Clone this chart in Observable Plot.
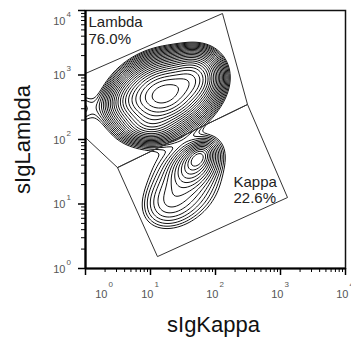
<!DOCTYPE html>
<html><head><meta charset="utf-8">
<script src="https://cdn.jsdelivr.net/npm/d3@7"></script>
<script src="https://cdn.jsdelivr.net/npm/@observablehq/plot@0.6"></script>
<style>
body{margin:0;background:#fff;}
#chart svg{display:block;}
</style></head><body><div id="chart"></div>
<script>
// ---- axis ticks ----
const xMajorTicks = [1, 10, 100, 1000, 10000];
const yMajorTicks = [1, 10, 100, 1000, 10000];
const tickExponents = ["0", "1", "2", "3", "4"];
const minorMultipliers = [2, 3, 4, 5, 6, 7, 8, 9];

// ---- population density model, in log10 units ----
const popName   = ["lambda core", "lambda upper right", "lambda left", "lambda lower",
                   "kappa core", "kappa body", "kappa halo", "kappa tail", "halo", "debris"];
const popU      = [1.20, 1.65, 0.70, 1.00, 1.74, 1.68, 1.52, 1.25, 1.00, -0.50];
const popV      = [2.70, 2.95, 2.60, 2.22, 1.72, 1.62, 1.28, 1.00, 1.85, 2.48];
const popSU     = [0.31, 0.20, 0.20, 0.22, 0.12, 0.22, 0.40, 0.25, 0.50, 0.40];
const popSV     = [0.23, 0.18, 0.16, 0.13, 0.08, 0.15, 0.30, 0.20, 0.30, 0.17];
const popAngle  = [20, 40, 25, 0, 45, 45, 50, 40, 0, 0];
const popWeight = [100, 35, 8, 12, 7, 7, 2.4, 1.0, 0.3, 2.2];

// ---- contour levels ----
const contourLevels = [0.65, 0.8, 1, 1.25, 1.56, 1.95, 2.44, 3.05, 3.8, 4.77, 5.96, 7.45, 9.3, 11.6, 14.6, 18.2, 22.7, 28.4, 35.5, 44.4, 55.5, 69.4, 86.7];

// ---- gates ----
const lambdaGateX = [1, 128, 311, 3.11, 1, 1];
const lambdaGateY = [1055, 8980, 349, 36.7, 107, 1055];
const kappaGateX  = [3.11, 12.8, 1282, 311, 3.11];
const kappaGateY  = [36.7, 1.53, 12.6, 349, 36.7];
const gateNames    = ["Lambda", "Kappa"];
const gatePercents = ["76.0%", "22.6%"];
const gateLabelX   = [1.11, 189];
const gateLabelY   = [8660, 28.7];

const xTitle = "sIgKappa";
const yTitle = "sIgLambda";

function density(u, v) {
  let s = 0;
  for (let i = 0; i < popU.length; i++) {
    const a = popAngle[i] * Math.PI / 180, c = Math.cos(a), sn = Math.sin(a);
    const du = u - popU[i], dv = v - popV[i];
    const p = (du * c + dv * sn) / popSU[i];
    const q = (-du * sn + dv * c) / popSV[i];
    s += popWeight[i] * Math.exp(-0.5 * (p * p + q * q));
  }
  return s;
}

const minorTicks = [];
for (const d of xMajorTicks.slice(0, -1)) for (const m of minorMultipliers) minorTicks.push(d * m);

const lambdaGate = lambdaGateX.map((x, i) => ({x, y: lambdaGateY[i]}));
const kappaGate = kappaGateX.map((x, i) => ({x, y: kappaGateY[i]}));
const gateLabels = gateNames.map((n, i) => ({x: gateLabelX[i], y: gateLabelY[i], text: n + "\n" + gatePercents[i]}));
const xLab = xMajorTicks.map((v, i) => ({v, e: tickExponents[i]}));
const yLab = yMajorTicks.map((v, i) => ({v, e: tickExponents[i]}));

const font = "'Liberation Sans', Arial, Helvetica, sans-serif";
const labelColor = "#555";

const chart = Plot.plot({
  width: 351, height: 338,
  marginLeft: 85, marginRight: 6, marginTop: 10, marginBottom: 70,
  x: {type: "log", domain: [1, 1e4]},
  y: {type: "log", domain: [1, 1e4]},
  style: {fontFamily: font, background: "#fff", overflow: "visible"},
  marks: [
    Plot.contour({
      value: (x, y) => density(Math.log10(x), Math.log10(y)),
      x1: 1, y1: 1, x2: 1e4, y2: 1e4,
      thresholds: contourLevels, pixelSize: 1,
      fill: "none", stroke: "#111", strokeWidth: 1
    }),
    Plot.line(lambdaGate, {x: "x", y: "y", stroke: "#333", strokeWidth: 1}),
    Plot.line(kappaGate, {x: "x", y: "y", stroke: "#333", strokeWidth: 1}),
    Plot.text(gateLabels, {x: "x", y: "y", text: "text", textAnchor: "start", lineAnchor: "top",
      fontSize: 15, lineHeight: 1.13, fill: "#222"}),
    Plot.frame({stroke: "#111", strokeWidth: 1.5}),
    Plot.ruleX([1], {stroke: "#000", strokeWidth: 2.2}),
    Plot.ruleY([1], {stroke: "#000", strokeWidth: 2.2}),
    Plot.axisX({ticks: xMajorTicks, tickSize: 7, tickFormat: () => "", label: null, stroke: "#000", strokeWidth: 1.5}),
    Plot.axisX({ticks: minorTicks, tickSize: 4, tickFormat: () => "", label: null, stroke: "#000", strokeWidth: 1}),
    Plot.axisY({ticks: yMajorTicks, tickSize: 7, tickFormat: () => "", label: null, stroke: "#000", strokeWidth: 1.5}),
    Plot.axisY({ticks: minorTicks, tickSize: 4, tickFormat: () => "", label: null, stroke: "#000", strokeWidth: 1}),
    // x tick labels (10 with superscript exponent)
    Plot.text(xLab.slice(1), {x: "v", text: () => "10", frameAnchor: "bottom", lineAnchor: "bottom",
      textAnchor: "end", dx: 3, dy: 29, fontSize: 11, fill: labelColor}),
    Plot.text(xLab.slice(1), {x: "v", text: "e", frameAnchor: "bottom", lineAnchor: "bottom",
      textAnchor: "start", dx: 4, dy: 18, fontSize: 8, fill: labelColor}),
    Plot.text(xLab.slice(0, 1), {x: "v", text: () => "10", frameAnchor: "bottom", lineAnchor: "bottom",
      textAnchor: "end", dx: 22, dy: 29, fontSize: 11, fill: labelColor}),
    Plot.text(xLab.slice(0, 1), {x: "v", text: "e", frameAnchor: "bottom", lineAnchor: "bottom",
      textAnchor: "start", dx: 23, dy: 18, fontSize: 8, fill: labelColor}),
    // y tick labels
    Plot.text(yLab.slice(0, 4), {y: "v", text: () => "10", frameAnchor: "left", lineAnchor: "bottom",
      textAnchor: "end", dx: -20, dy: 4, fontSize: 11, fill: labelColor}),
    Plot.text(yLab.slice(0, 4), {y: "v", text: "e", frameAnchor: "left", lineAnchor: "bottom",
      textAnchor: "start", dx: -19, dy: -4, fontSize: 8, fill: labelColor}),
    Plot.text(yLab.slice(4), {y: "v", text: () => "10", frameAnchor: "left", lineAnchor: "bottom",
      textAnchor: "end", dx: -20, dy: 14, fontSize: 11, fill: labelColor}),
    Plot.text(yLab.slice(4), {y: "v", text: "e", frameAnchor: "left", lineAnchor: "bottom",
      textAnchor: "start", dx: -19, dy: 6, fontSize: 8, fill: labelColor}),
    // axis titles
    Plot.text([xTitle], {frameAnchor: "bottom", lineAnchor: "bottom", textAnchor: "middle", dx: -2, dy: 63, fontSize: 22, fill: "#111"}),
    Plot.text([yTitle], {frameAnchor: "left", lineAnchor: "bottom", textAnchor: "middle", rotate: -90, dx: -56, fontSize: 22, fill: "#111"})
  ]
});
document.getElementById("chart").appendChild(chart);
</script>
</body></html>
